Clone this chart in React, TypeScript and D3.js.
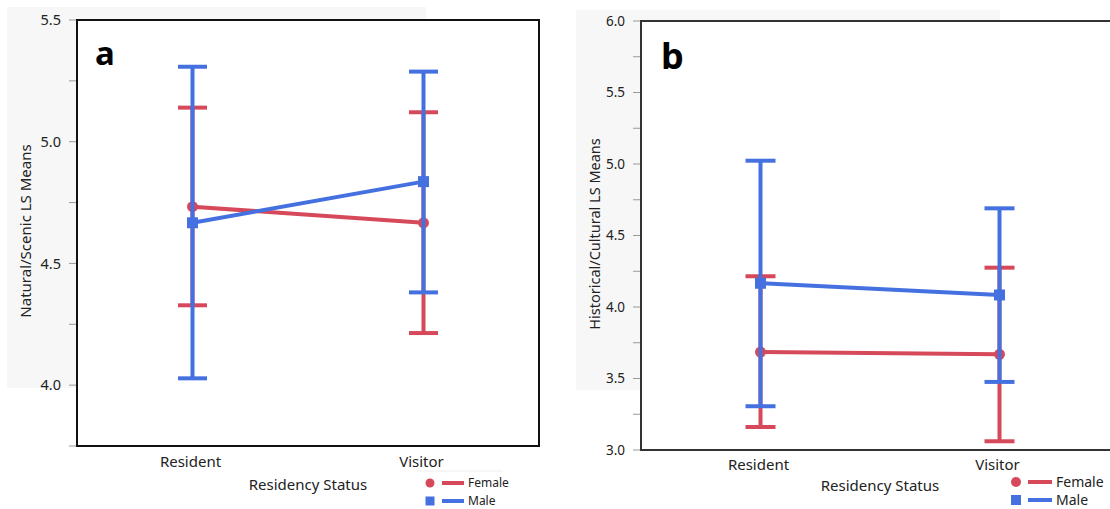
import React from 'react'
import * as d3 from 'd3'

const categories = ['Resident', 'Visitor']
const seriesNames = ['Female', 'Male']

// panel a: Natural/Scenic
const aFemaleMean = [4.733, 4.667]
const aFemaleLower = [4.328, 4.214]
const aFemaleUpper = [5.14, 5.121]
const aMaleMean = [4.667, 4.836]
const aMaleLower = [4.028, 4.381]
const aMaleUpper = [5.308, 5.288]
const aTicks = [4.0, 4.5, 5.0, 5.5]
const aMinorTicks = [3.75, 4.25, 4.75, 5.25]

// panel b: Historical/Cultural
const bFemaleMean = [3.685, 3.669]
const bFemaleLower = [3.161, 3.061]
const bFemaleUpper = [4.215, 4.275]
const bMaleMean = [4.166, 4.084]
const bMaleLower = [3.306, 3.476]
const bMaleUpper = [5.023, 4.69]
const bTicks = [3.0, 3.5, 4.0, 4.5, 5.0, 5.5, 6.0]
const bMinorTicks = [3.25, 3.75, 4.25, 4.75, 5.25, 5.75]

const RED = '#d6495a'
const BLUE = '#4470e0'
const FONT = "'Noto Sans', 'Open Sans', sans-serif"

type Series = { name: string; color: string; mean: number[]; lower: number[]; upper: number[] }

const Panel = ({ cfg, series }: { cfg: any; series: Series[] }) => {
  const x = d3.scalePoint<string>().domain(categories).range([cfg.x0, cfg.x1]).padding(0.5)
  const y = d3.scaleLinear().domain(cfg.domain).range([cfg.y1, cfg.y0])
  const line = d3
    .line<number>()
    .x((_, i) => x(categories[i]) as number)
    .y((d) => y(d))
  const cap = cfg.cap / 2

  return (
    <g>
      <rect x={cfg.bg[0]} y={cfg.bg[1]} width={cfg.bg[2]} height={cfg.bg[3]} fill="#f7f7f7" />
      <rect x={cfg.x0} y={cfg.y0} width={Math.min(cfg.x1, 1110) - cfg.x0} height={cfg.y1 - cfg.y0} fill="#fff" />
      {/* ticks */}
      {[...cfg.ticks, ...cfg.minor].map((t: number) => (
        <line key={'t' + t} x1={cfg.x0 - 8} x2={cfg.x0} y1={y(t)} y2={y(t)} stroke="#999" strokeWidth={1} />
      ))}
      {cfg.ticks.map((t: number) => (
        <text key={'l' + t} x={cfg.x0 - 16} y={y(t)} dy="0.35em" textAnchor="end" fontSize={cfg.tickFont} fill="#222" fontFamily={FONT}>
          {d3.format('.1f')(t)}
        </text>
      ))}
      {/* frame */}
      <path
        d={`M${cfg.x0},${cfg.y0}H${cfg.x1}V${cfg.y1}H${cfg.x0}Z`}
        fill="none"
        stroke={cfg.frame}
        strokeWidth={2}
      />
      <text x={cfg.letterX} y={cfg.letterY} fontSize={cfg.letterFont} fontWeight="bold" fontFamily={FONT} fill="#000">
        {cfg.letter}
      </text>
      {/* series */}
      {series.map((s) => (
        <g key={s.name}>
          {categories.map((c, i) => (
            <g key={c} stroke={s.color} strokeWidth={4}>
              <line x1={x(c)} x2={x(c)} y1={y(s.lower[i])} y2={y(s.upper[i])} />
              <line x1={(x(c) as number) - cap} x2={(x(c) as number) + cap} y1={y(s.lower[i])} y2={y(s.lower[i])} />
              <line x1={(x(c) as number) - cap} x2={(x(c) as number) + cap} y1={y(s.upper[i])} y2={y(s.upper[i])} />
            </g>
          ))}
          <path d={line(s.mean) as string} fill="none" stroke={s.color} strokeWidth={4} />
          {categories.map((c, i) =>
            s.name === 'Female' ? (
              <circle key={c} cx={x(c)} cy={y(s.mean[i])} r={5.5} fill={s.color} />
            ) : (
              <rect key={c} x={(x(c) as number) - 5.5} y={y(s.mean[i]) - 5.5} width={11} height={11} fill={s.color} />
            )
          )}
        </g>
      ))}
      {/* category labels */}
      {categories.map((c) => (
        <text key={c} x={(x(c) as number) - 2} y={cfg.catY} textAnchor="middle" fontSize={cfg.catFont} fontFamily={FONT} fill="#222">
          {c}
        </text>
      ))}
      <text x={cfg.titleX} y={cfg.titleY} textAnchor="middle" fontSize={cfg.catFont} fontFamily={FONT} fill="#222">
        Residency Status
      </text>
      <text
        transform={`translate(${cfg.yLabelX},${cfg.yLabelY}) rotate(-90)`}
        textAnchor="middle"
        fontSize={cfg.yLabelFont}
        fontFamily={FONT}
        fill="#222"
      >
        {cfg.yLabel}
      </text>
      {/* legend */}
      {cfg.legendRule && (
        <line x1={cfg.legendRule[0]} x2={cfg.legendRule[1]} y1={cfg.legendRule[2]} y2={cfg.legendRule[2]} stroke="#eee" />
      )}
      {series.map((s, i) => {
        const ly = cfg.legendY + i * cfg.legendGap
        return (
          <g key={'lg' + s.name}>
            {s.name === 'Female' ? (
              <circle cx={cfg.legendX} cy={ly} r={cfg.legendMark / 2} fill={s.color} />
            ) : (
              <rect x={cfg.legendX - cfg.legendMark / 2} y={ly - cfg.legendMark / 2} width={cfg.legendMark} height={cfg.legendMark} fill={s.color} />
            )}
            <line x1={cfg.legendX + 12} x2={cfg.legendX + 12 + cfg.legendLine} y1={ly} y2={ly} stroke={s.color} strokeWidth={4} />
            <text x={cfg.legendX + 16 + cfg.legendLine} y={ly} dy="0.35em" fontSize={cfg.legendFont} fontFamily={FONT} fill="#222">
              {s.name}
            </text>
          </g>
        )
      })}
    </g>
  )
}

const panelA = {
  x0: 77, x1: 539, y0: 20, y1: 446,
  domain: [3.75, 5.5], ticks: aTicks, minor: aMinorTicks,
  bg: [7, 7, 419, 381], frame: '#111', cap: 29, tickFont: 14.5,
  letter: 'a', letterX: 95, letterY: 65, letterFont: 33,
  catY: 467, catFont: 15, titleX: 308, titleY: 490,
  yLabel: 'Natural/Scenic LS Means', yLabelX: 31, yLabelY: 231, yLabelFont: 15,
  legendX: 430, legendY: 483, legendGap: 18, legendMark: 9, legendLine: 22, legendFont: 12,
  legendRule: [417, 503, 471],
}

const panelB = {
  x0: 641, x1: 1119, y0: 21, y1: 450,
  domain: [3.0, 6.0], ticks: bTicks, minor: bMinorTicks,
  bg: [576, 10, 424, 380], frame: '#333', cap: 30, tickFont: 13.5,
  letter: 'b', letterX: 661, letterY: 69, letterFont: 36,
  catY: 470, catFont: 15, titleX: 880, titleY: 491,
  yLabelX: 600, yLabelY: 234, yLabel: 'Historical/Cultural LS Means', yLabelFont: 14.5,
  legendX: 1016, legendY: 482, legendGap: 18, legendMark: 10, legendLine: 24, legendFont: 14,
  legendRule: null,
}

const App = () => {
  const seriesA: Series[] = [
    { name: seriesNames[0], color: RED, mean: aFemaleMean, lower: aFemaleLower, upper: aFemaleUpper },
    { name: seriesNames[1], color: BLUE, mean: aMaleMean, lower: aMaleLower, upper: aMaleUpper },
  ]
  const seriesB: Series[] = [
    { name: seriesNames[0], color: RED, mean: bFemaleMean, lower: bFemaleLower, upper: bFemaleUpper },
    { name: seriesNames[1], color: BLUE, mean: bMaleMean, lower: bMaleLower, upper: bMaleUpper },
  ]
  return (
    <svg width={1110} height={509} style={{ position: 'absolute', left: 0, top: 0, background: '#fff' }}>
      <Panel cfg={panelA} series={seriesA} />
      <Panel cfg={panelB} series={seriesB} />
    </svg>
  )
}

export default App
